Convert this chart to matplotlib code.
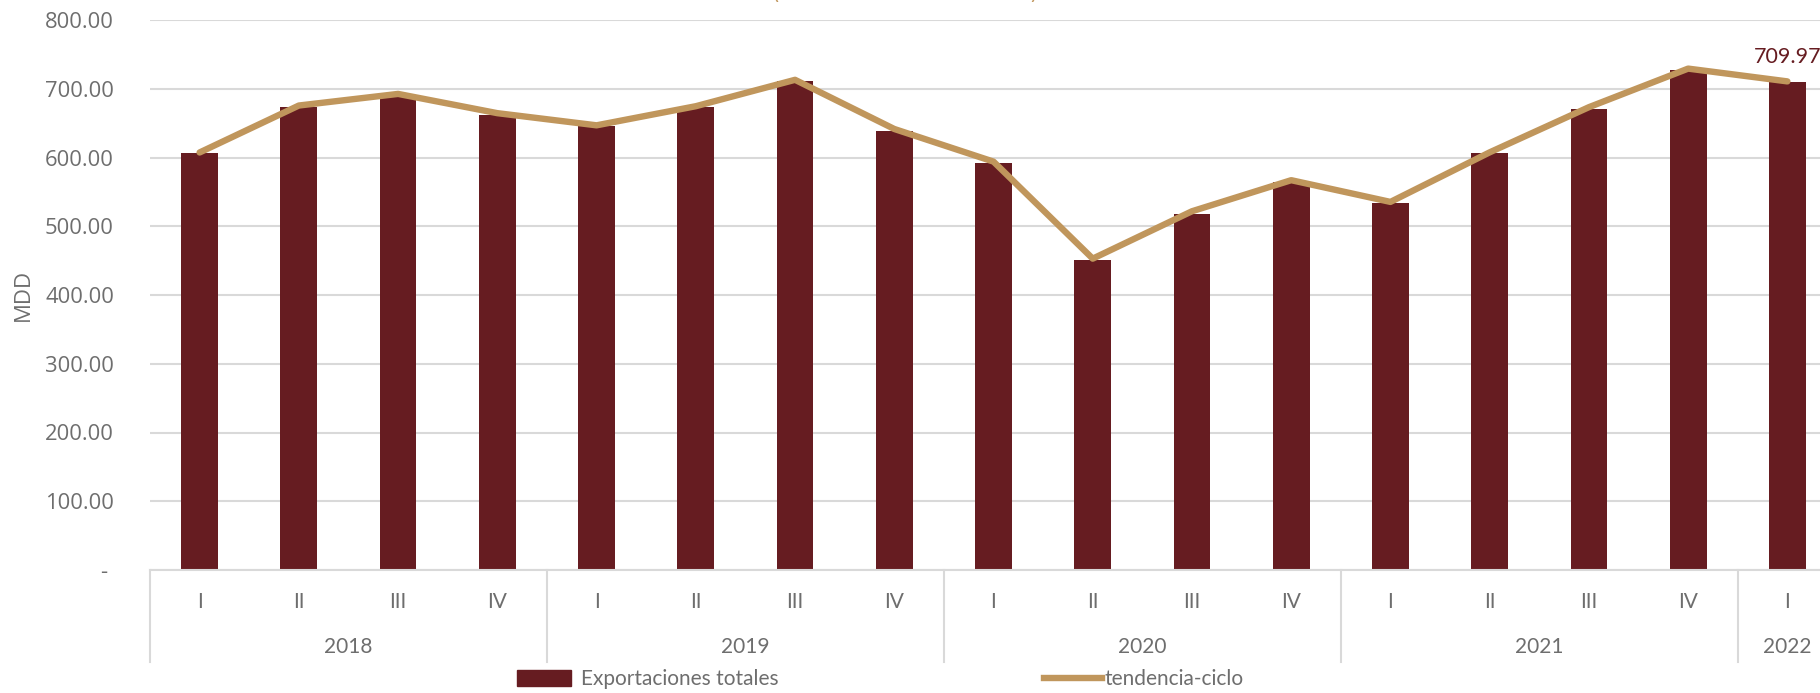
import matplotlib.pyplot as plt
from matplotlib.patches import Patch
from matplotlib.lines import Line2D

trimestres = ['I', 'II', 'III', 'IV', 'I', 'II', 'III', 'IV', 'I', 'II', 'III', 'IV',
              'I', 'II', 'III', 'IV', 'I']
anios = ['2018', '2019', '2020', '2021', '2022']
anios_n = [4, 4, 4, 4, 1]
exportaciones = [606.3, 673.5, 691.5, 662.4, 645.4, 673.2, 710.7, 638.8, 592.5,
                 450.5, 518.4, 565.0, 534.5, 606.8, 670.7, 726.8, 709.97]
tendencia = [607.3, 675.6, 692.5, 664.5, 646.8, 674.6, 713.0, 641.5, 594.0,
             452.9, 521.8, 567.0, 535.4, 607.5, 673.2, 729.3, 710.7]

bar_color = '#661C21'
line_color = '#C0965C'
gray = '#6E6E6E'

fig = plt.figure(figsize=(18.2, 6.93), dpi=100)
ax = fig.add_axes([150 / 1820, 123 / 693, 1687 / 1820, 550 / 693])

x = list(range(len(trimestres)))
ax.bar(x, exportaciones, width=0.37, color=bar_color, zorder=2)
ax.plot(x, tendencia, color=line_color, lw=4.6, solid_capstyle='round', zorder=3)

ax.set_xlim(-0.5, len(trimestres) - 0.5)
ax.set_ylim(0, 800)
ax.set_yticks(range(0, 801, 100))
ax.set_yticklabels(['- '] + ['%.2f' % v for v in range(100, 801, 100)],
                   family='Open Sans', fontsize=15.8, color=gray)
ax.tick_params(axis='y', length=0, pad=26)
ax.grid(axis='y', color='#D9D9D9', lw=1.5, zorder=0)
ax.set_axisbelow(True)
for s in ['top', 'right', 'left']:
    ax.spines[s].set_visible(False)
ax.spines['bottom'].set_color('#D9D9D9')
ax.spines['bottom'].set_linewidth(1.5)

ax.set_ylabel('MDD', family='Open Sans', fontsize=16, color=gray, labelpad=8)

# etiquetas de trimestre y anio (eje multinivel)
ax.set_xticks(x)
ax.set_xticklabels(trimestres, family='Lato', fontsize=15, color=gray)
ax.tick_params(axis='x', length=0, pad=16)
trans = ax.get_xaxis_transform()
start = 0
ax.plot([-0.5, -0.5], [0, -0.168], color='#D9D9D9', lw=1.5, transform=trans, clip_on=False)
for a, n in zip(anios, anios_n):
    center = start + (n - 1) / 2
    ax.text(center, -0.14, a, ha='center', va='center', family='Lato', fontsize=15,
            color=gray, transform=trans)
    edge = start + n - 0.5
    ax.plot([edge, edge], [0, -0.168], color='#D9D9D9', lw=1.5, transform=trans, clip_on=False)
    start += n

ax.annotate('%.2f' % exportaciones[-1], (x[-1], exportaciones[-1]), xytext=(0, 11),
            textcoords='offset points', ha='center', va='bottom', family='Lato',
            fontsize=15.5, color=bar_color)

# titulo recortado en el original
fig.text(775 / 1820, 1 + 7 / 693, '(', ha='center', va='center', fontsize=15, color=line_color)
fig.text(1033 / 1820, 1 + 7 / 693, ')', ha='center', va='center', fontsize=15, color=line_color)

fig.legend(handles=[Patch(color=bar_color, label='Exportaciones totales')],
           loc='center left', bbox_to_anchor=(498 / 1820, 1 - 679 / 693), frameon=False,
           handlelength=2.6, handleheight=0.8, handletextpad=0.5,
           prop={'family': 'Lato', 'size': 15}, labelcolor=gray)
fig.legend(handles=[Line2D([], [], color=line_color, lw=4.6, label='tendencia-ciclo')],
           loc='center left', bbox_to_anchor=(1025 / 1820, 1 - 679 / 693), frameon=False,
           handlelength=2.8, handletextpad=0.1,
           prop={'family': 'Lato', 'size': 15}, labelcolor=gray)

fig.savefig('out.png')
